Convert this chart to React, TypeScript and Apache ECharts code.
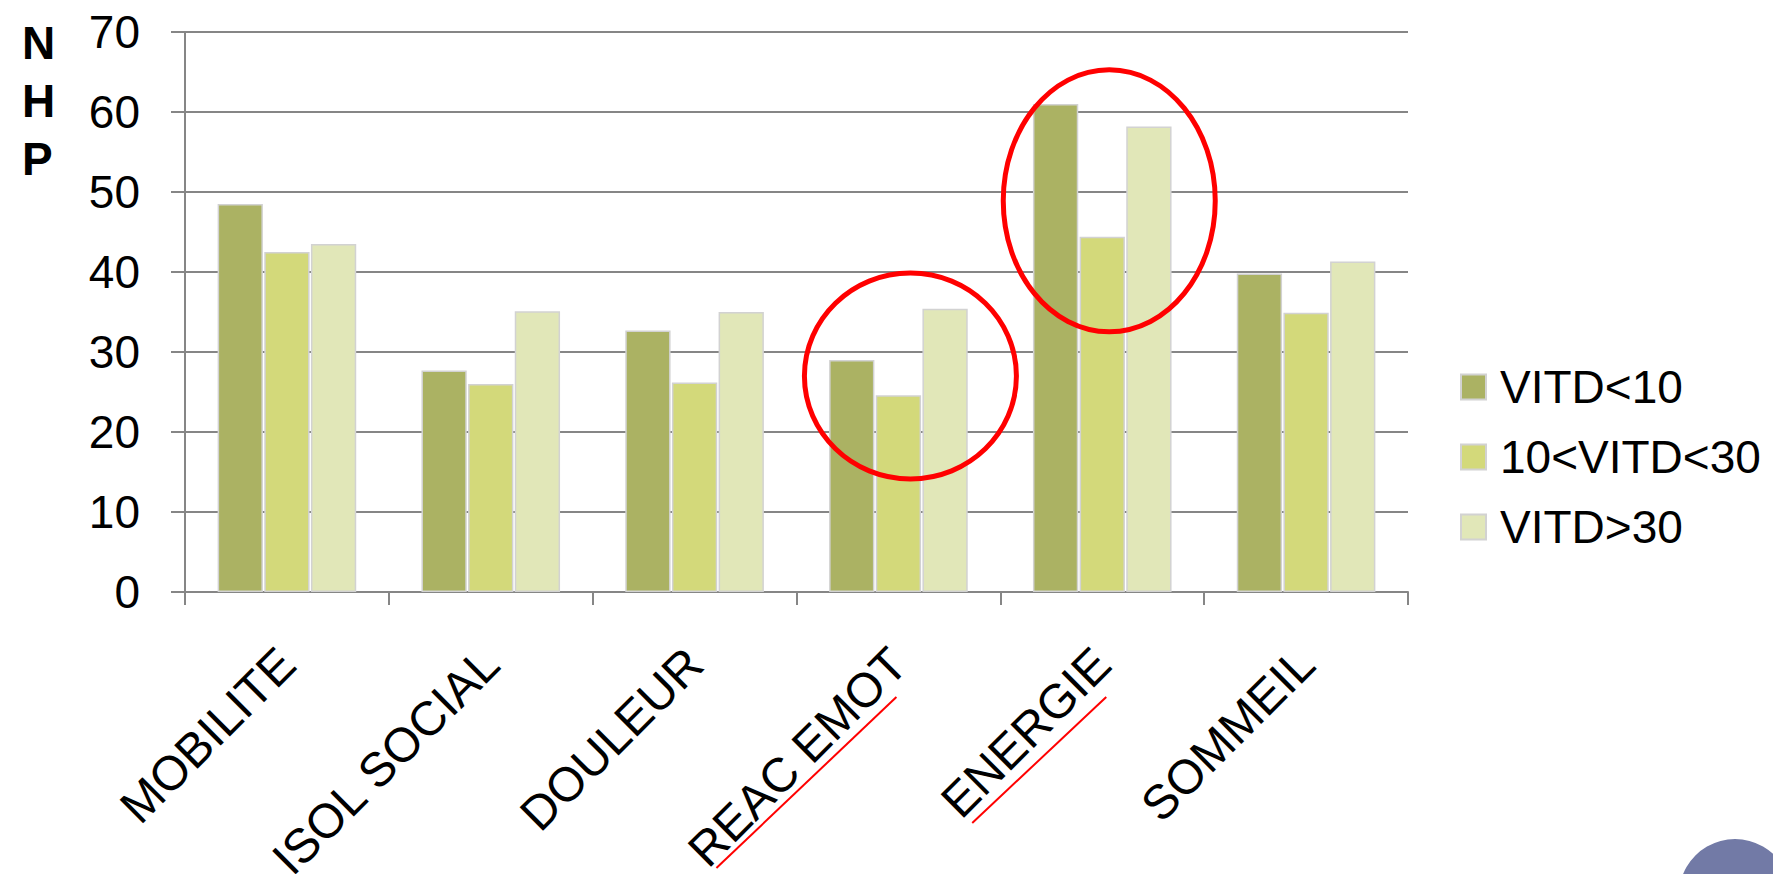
import React, { useEffect, useRef } from 'react';
import * as echarts from 'echarts';

const categories = ['MOBILITE', 'ISOL SOCIAL', 'DOULEUR', 'REAC EMOT', 'ENERGIE', 'SOMMEIL'];
const seriesNames = ['VITD<10', '10<VITD<30', 'VITD>30'];
const vitdLow = [48.5, 27.7, 32.7, 29.0, 61.0, 39.8];
const vitdMid = [42.5, 26.0, 26.2, 24.6, 44.4, 34.9];
const vitdHigh = [43.5, 35.1, 35.0, 35.4, 58.2, 41.3];
const yTicks = { min: 0, max: 70, interval: 10 };
const colors = ['#ABB263', '#D3D97A', '#E1E7B8'];
// highlighted categories (index, value at ellipse centre)
const highlights = [
  { cat: 3, value: 27, dx: 12, rx: 106, ry: 103 },
  { cat: 4, value: 48.9, dx: 7, rx: 106, ry: 131 },
];

const FONT = '"Liberation Sans", Arial, sans-serif';
const GRID_COLOR = '#868686';

export default function App() {
  const ref = useRef<HTMLDivElement>(null);

  useEffect(() => {
    if (!ref.current) return;
    const chart = echarts.init(ref.current, undefined, { renderer: 'svg' });
    const seriesData = [vitdLow, vitdMid, vitdHigh];
    chart.setOption({
      animation: false,
      backgroundColor: '#ffffff',
      textStyle: { fontFamily: FONT },
      title: {
        text: 'N\nH\nP',
        left: 17,
        top: 9,
        textStyle: { fontSize: 46, fontWeight: 'bold', color: '#000', lineHeight: 58, fontFamily: FONT },
      },
      grid: { left: 185, right: 365, top: 32, bottom: 282, containLabel: false, outerBoundsMode: 'none' },
      legend: {
        orient: 'vertical',
        left: 1455,
        top: 359,
        itemWidth: 25,
        itemHeight: 25,
        itemGap: 24,
        icon: 'rect',
        data: seriesNames,
        textStyle: { fontSize: 46, color: '#000', fontFamily: FONT, padding: [0, 0, 0, 9] },
      },
      xAxis: {
        type: 'category',
        data: categories,
        boundaryGap: true,
        axisLine: { show: true, lineStyle: { color: GRID_COLOR, width: 2 } },
        axisTick: { show: true, length: 13, alignWithLabel: false, lineStyle: { color: GRID_COLOR, width: 2 } },
        axisLabel: { rotate: 45, interval: 0, margin: 64, fontSize: 48, color: '#000', fontFamily: FONT },
      },
      yAxis: {
        type: 'value',
        min: yTicks.min,
        max: yTicks.max,
        interval: yTicks.interval,
        axisLine: { show: true, lineStyle: { color: GRID_COLOR, width: 2 } },
        axisTick: { show: true, length: 14, lineStyle: { color: GRID_COLOR, width: 2 } },
        axisLabel: { fontSize: 46, color: '#000', margin: 45, fontFamily: FONT },
        splitLine: { show: true, lineStyle: { color: GRID_COLOR, width: 2 } },
      },
      series: seriesNames.map((name, i) => ({
        name,
        type: 'bar',
        data: seriesData[i],
        barGap: '3%',
        barCategoryGap: '32%',
        itemStyle: { color: colors[i], borderColor: '#d2d2d2', borderWidth: 1.5 },
      })),
    });

    const graphics: any[] = [];
    highlights.forEach((h, i) => {
      const p = chart.convertToPixel({ gridIndex: 0 }, [h.cat, h.value]) as number[];
      graphics.push({
        type: 'ellipse',
        id: 'ell' + i,
        shape: { cx: p[0] + h.dx, cy: p[1], rx: h.rx, ry: h.ry },
        style: { fill: 'none', stroke: '#FF0000', lineWidth: 5 },
        z: 100,
      });
    });
    // red underlines beneath the highlighted labels
    const p3 = chart.convertToPixel({ gridIndex: 0 }, [3, 0]) as number[];
    const p4 = chart.convertToPixel({ gridIndex: 0 }, [4, 0]) as number[];
    graphics.push({
      type: 'line',
      shape: { x1: p3[0] - 182, y1: p3[1] + 276, x2: p3[0] - 2, y2: p3[1] + 105 },
      style: { stroke: '#FF0000', lineWidth: 2 },
      z: 100,
    });
    graphics.push({
      type: 'line',
      shape: { x1: p4[0] - 130, y1: p4[1] + 231, x2: p4[0] + 4, y2: p4[1] + 105 },
      style: { stroke: '#FF0000', lineWidth: 2 },
      z: 100,
    });
    // decorative slide circle in bottom-right corner
    graphics.push({
      type: 'circle',
      shape: { cx: 1735, cy: 895, r: 56 },
      style: { fill: '#727AA6' },
      z: 100,
    });
    chart.setOption({ graphic: graphics });

    return () => chart.dispose();
  }, []);

  return (
    <div
      ref={ref}
      style={{ position: 'absolute', left: 0, top: 0, width: '1773px', height: '874px' }}
    />
  );
}
